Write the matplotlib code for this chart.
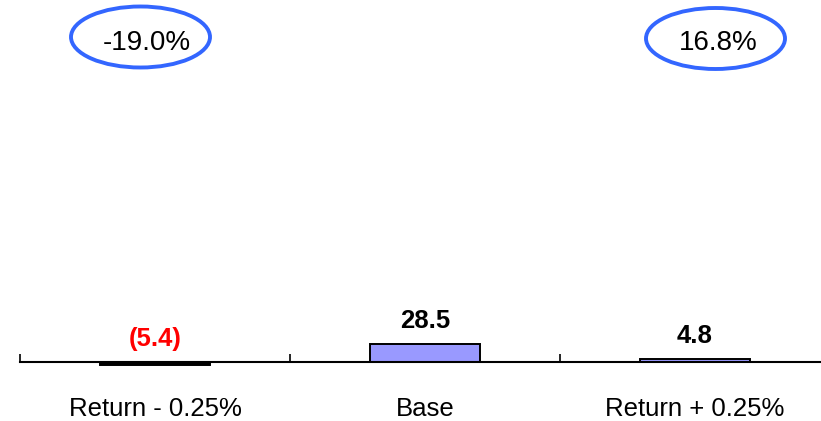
import matplotlib
matplotlib.use("Agg")
import matplotlib.pyplot as plt
from matplotlib.patches import Ellipse

plt.rcParams['font.family'] = ['Liberation Sans', 'DejaVu Sans']

# Scenario data
categories = ["Return - 0.25%", "Base", "Return + 0.25%"]
values = [-5.4, 28.5, 4.8]
pct_changes = ["-19.0%", None, "16.8%"]

W, H = 821, 421
fig = plt.figure(figsize=(W / 100, H / 100), dpi=100)
ax = fig.add_axes([20 / W, 59 / H, 810 / W, 362 / H])

x = list(range(len(categories)))
face = ["black" if v < 0 else "#9999FF" for v in values]
bars = ax.bar(x, values, width=0.407, color=face, edgecolor="black",
              linewidth=1.4, zorder=3)
for b in bars:
    b.set_clip_on(False)

ax.set_xlim(-0.5, len(categories) - 0.5)
ax.set_ylim(0, 573)

for s in ("left", "right", "top"):
    ax.spines[s].set_visible(False)
ax.spines["bottom"].set_linewidth(1.5)
ax.spines["bottom"].set_zorder(4)
ax.set_yticks([])

ax.set_xticks(x)
ax.set_xticklabels(categories, fontsize=18.5)
ax.tick_params(axis="x", which="major", length=0, pad=25)
ax.set_xticks([i - 0.5 for i in range(len(categories) + 1)], minor=True)
ax.tick_params(axis="x", which="minor", direction="in", length=5.5, width=1.2)

# Value labels above each bar (negative values shown in parentheses)
for xi, v in zip(x, values):
    if v < 0:
        txt, col = f"({abs(v):.1f})", "#FF0000"
    else:
        txt, col = f"{v:.1f}", "black"
    ax.annotate(txt, (xi, max(v, 0)), xytext=(0, 11.5), textcoords="offset points",
                ha="center", va="baseline", fontsize=18.5, fontweight="bold",
                color=col)

# Percentage change callouts
callouts = [(140.5, 37, 147, 42.5), None, (715.5, 38.5, 718.5, 42.5)]
for pct, pos in zip(pct_changes, callouts):
    if pct is None:
        continue
    ex, ey, tx, ty = pos
    fig.patches.append(Ellipse((ex / W, 1 - ey / H), 139 / W, 61 / H,
                               transform=fig.transFigure, fill=False,
                               edgecolor="#3366FF", linewidth=2.8))
    fig.text(tx / W, 1 - ty / H, pct, ha="center", va="center",
             fontsize=20, color="black")

fig.savefig("out.png", dpi=100)
